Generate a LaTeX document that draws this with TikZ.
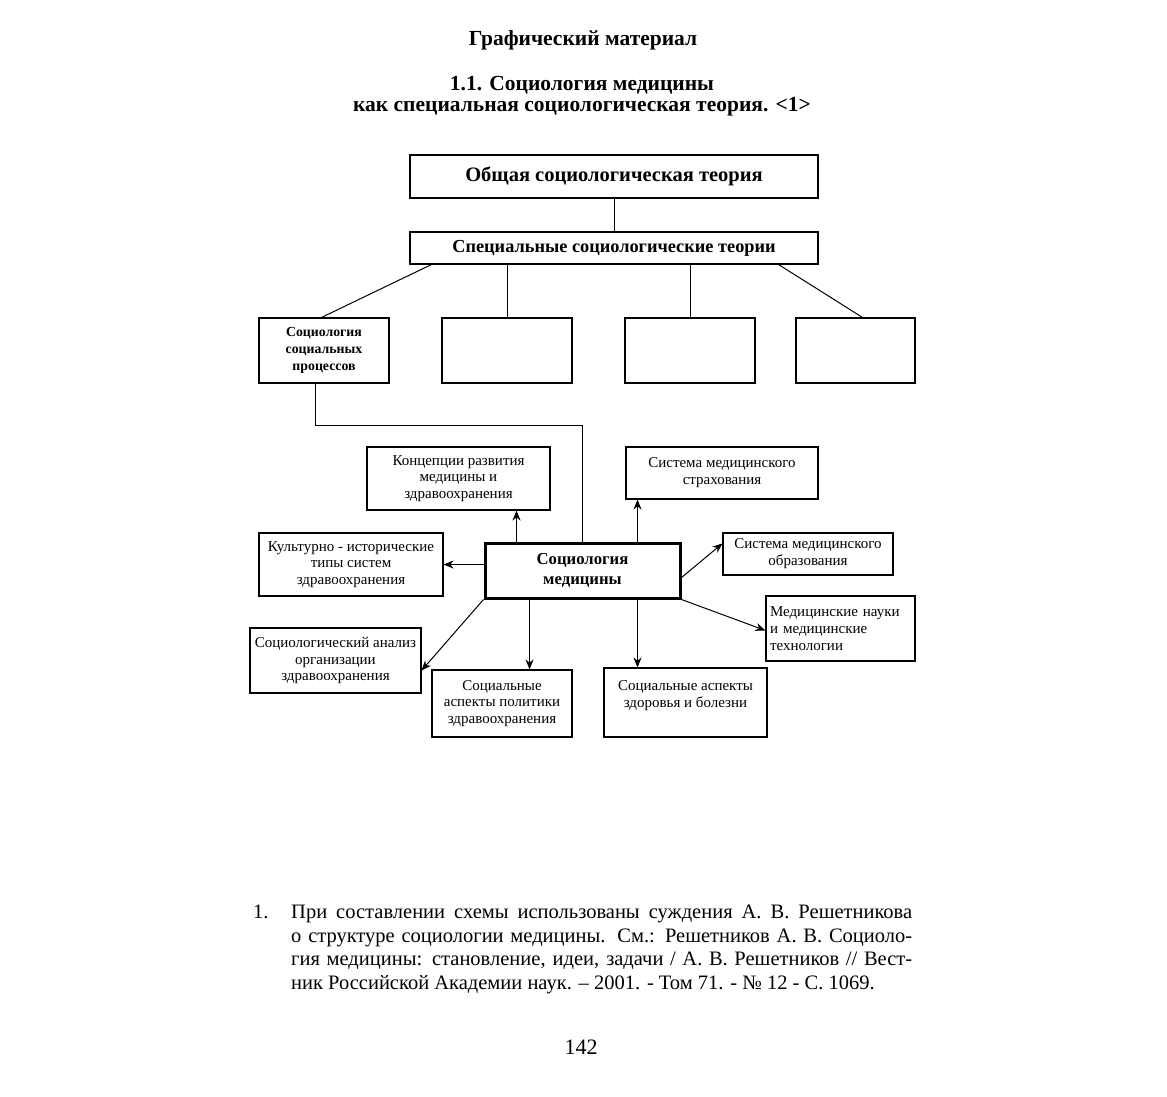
\documentclass[tikz,border=0pt]{standalone}
\usepackage{fontspec}
\setmainfont{Liberation Serif}
\usetikzlibrary{arrows.meta,calc}
\newcommand\fsz[2]{\fontsize{#1pt}{#2pt}\selectfont}
\begin{document}
\begin{tikzpicture}[x=1pt,y=-1pt,
  box/.style={draw, line width=1.1pt, inner sep=2pt, align=center, font=\fsz{15}{16.8}},
  arr/.style={-{Stealth[length=10pt,width=8pt]}, line width=1pt},
  ln/.style={line width=1pt},
  txt/.style={align=center, inner sep=0pt, font=\fsz{15}{16.8}}]
\useasboundingbox (0,0) rectangle (1167,1097);
% titles
\node[font=\bfseries\fsz{21.5}{24}] (t1) at (583,40) {Графический материал};
\node[font=\bfseries\fsz{21.5}{24}] (t2) at (582,85) {1.1. Социология медицины};
\node[font=\bfseries\fsz{21.5}{24}] (t3) at (582,107) {как специальная социологическая теория. <1>};
% top hierarchy
\node[box, minimum width=408, minimum height=43, font=\bfseries\fsz{20.5}{22}] (gen) at (614,176.5) {Общая социологическая теория};
\node[box, minimum width=408, minimum height=32, font=\bfseries\fsz{18.3}{20}] (spec) at (614,248) {Специальные социологические теории};
\node[box, minimum width=130, minimum height=65, font=\bfseries\fsz{13.8}{17}] (b1) at (324,350.5) {Социология\\социальных\\процессов};
\node[box, minimum width=130, minimum height=65] (b2) at (507,350.5) {};
\node[box, minimum width=130, minimum height=65] (b3) at (690,350.5) {};
\node[box, minimum width=119, minimum height=65] (b4) at (855.5,350.5) {};
\draw[ln] (gen) -- (spec);
\draw[ln] ([xshift=22pt]spec.south west) -- ([xshift=63pt]b1.north west);
\draw[ln] (spec.south west -| b2.north) -- (b2.north);
\draw[ln] (spec.south west -| b3.north) -- (b3.north);
\draw[ln] ([xshift=-40pt]spec.south east) -- ([xshift=7pt]b4.north);
% central
\node[box, line width=3pt, minimum width=195, minimum height=55, font=\bfseries\fsz{16.7}{20}] (cen) at (582.5,570.5) {Социология\\медицины};
\coordinate (bend1) at ([xshift=-9pt]b1.south |- 0,425);
\draw[ln] ([xshift=-9pt]b1.south) -- (bend1) -- (cen.north |- bend1) -- (cen.north);
% satellites
\node[box, minimum width=183, minimum height=63] (conc) at (458.5,478.5) {Концепции развития\\медицины и\\здравоохранения};
\node[box, minimum width=192, minimum height=52] (ins) at (722,473) {Система медицинского\\страхования};
\node[box, minimum width=184, minimum height=63] (cult) at (351,564.5) {Культурно - исторические\\типы систем\\здравоохранения};
\node[box, minimum width=170, minimum height=42] (edu) at (808,554) {Система медицинского\\образования};
\node[box, minimum width=149, minimum height=65, align=left, text width=141] (msci) at (840.5,628.5) {Медицинские науки\\и медицинские\\технологии};
\node[box, minimum width=171, minimum height=65] (soca) at (335.5,660.5) {Социологический анализ\\организации\\здравоохранения};
\node[box, minimum width=140, minimum height=67] (pol) at (502,703.5) {Социальные\\аспекты политики\\здравоохранения};
\node[box, minimum width=163, minimum height=69] (hlt) at (685.5,702.5) {};
\node[txt] (hlttxt) at ($(hlt.north)+(0,28)$) {Социальные аспекты\\здоровья и болезни};
% arrows
\draw[arr] ([xshift=33pt]cen.north west) -- ([xshift=33pt]cen.north west |- conc.south);
\draw[arr] ([xshift=-44pt]cen.north east) -- ([xshift=-44pt]cen.north east |- ins.south);
\draw[arr] (cen.west |- cult.east) -- (cult.east);
\draw[arr] ([yshift=-7pt]cen.east) -- ([yshift=-11pt]edu.west |- edu.north);
\draw[arr] (cen.south east) -- ([yshift=-2pt]msci.west);
\draw[arr] (cen.south west) -- ([yshift=-10pt]soca.east);
\draw[arr] (cen.south -| pol.south east) ++(-43,0) coordinate (pa) -- (pa |- pol.north);
\draw[arr] ([xshift=-44pt]cen.south east) -- ([xshift=-44pt]cen.south east |- hlt.north);
% footnote
\node[anchor=north west, inner sep=0pt, font=\fsz{20.5}{23.5}] (fn1) at (253,905) {1.};
\node[anchor=north west, inner sep=0pt, text width=621, align=justify, font=\fsz{20.5}{23.5}] (fn) at (291,905) {При составлении схемы использованы суждения А.~В.~Решетникова\linebreak о~структуре социологии медицины. См.: Решетников А.~В. Социоло-\linebreak гия медицины: становление, идеи, задачи / А.~В.~Решетников // Вест-\linebreak ник Российской Академии наук. – 2001. - Том 71. - № 12 - С.~1069.};
\node[font=\fsz{22}{24}] (pg) at (581,1047) {142};
\end{tikzpicture}
\end{document}
